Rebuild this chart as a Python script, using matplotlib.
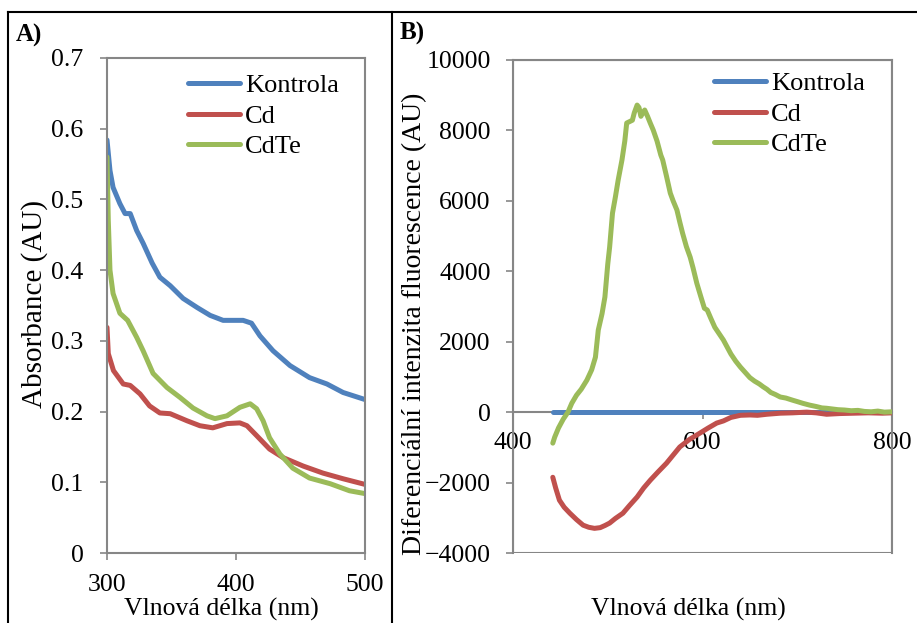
import matplotlib.pyplot as plt
from matplotlib.lines import Line2D
from matplotlib.patches import Rectangle

plt.rcParams['font.family'] = ['Liberation Serif', 'DejaVu Serif']

W, H = 917, 623

# ---- panel A: absorbance ----
a_kon_x = [300, 302.3, 304.7, 310, 314, 318, 323, 328, 335, 341, 349, 359, 370, 380, 390,
           395, 405.5, 412, 418.6, 428.7, 441.9, 457, 470.5, 483, 500]
a_kon_y = [0.584, 0.541, 0.517, 0.494, 0.480, 0.480, 0.456, 0.438, 0.410, 0.390, 0.378, 0.360,
           0.347, 0.336, 0.329, 0.329, 0.329, 0.325, 0.307, 0.286, 0.265, 0.248, 0.239, 0.227, 0.217]

a_cd_x = [300, 301, 305, 312.6, 318, 325.6, 333, 341, 349, 362, 372, 382, 393,
          403, 408.5, 416, 426, 436.4, 452, 467.4, 483, 500]
a_cd_y = [0.319, 0.282, 0.258, 0.239, 0.237, 0.225, 0.208, 0.198, 0.197, 0.187, 0.180, 0.177,
          0.183, 0.184, 0.180, 0.166, 0.147, 0.135, 0.123, 0.113, 0.105, 0.097]

a_te_x = [300, 301, 302.3, 304.7, 310, 316, 323, 328, 335.7, 346.5, 356.6, 366.7, 377.5, 383.7,
          393, 403, 411, 416, 421, 426, 434, 444, 457, 473, 488, 500]
a_te_y = [0.56, 0.470, 0.400, 0.367, 0.339, 0.329, 0.305, 0.286, 0.254, 0.234, 0.220, 0.205,
          0.194, 0.190, 0.194, 0.206, 0.211, 0.204, 0.187, 0.163, 0.140, 0.120, 0.106, 0.098,
          0.088, 0.084]

# ---- panel B: differential fluorescence ----
b_kon_x = [442, 800]
b_kon_y = [0, 0]

b_cd_x = [442, 445, 449, 454, 460, 467, 474, 480, 486, 492, 497, 502, 508, 516, 523, 531, 538,
          545, 553, 562, 569, 576, 586, 597, 606, 615, 622, 630, 640, 650, 658, 668, 682, 695,
          710, 720, 731, 745, 760, 775, 790, 800]
b_cd_y = [-1850, -2150, -2500, -2700, -2870, -3050, -3210, -3270, -3300, -3280, -3220, -3150,
          -3020, -2870, -2650, -2410, -2150, -1930, -1700, -1450, -1220, -990, -780, -600, -450,
          -310, -250, -150, -90, -80, -90, -60, -30, -20, 0, -20, -60, -40, -30, -20, -30, -20]

b_te_x = [442, 444, 448, 453, 458, 462, 467, 472, 478, 483, 487, 490, 494, 497, 500, 502, 505,
          508, 511, 515, 518, 520, 523, 526, 528, 531, 533, 535, 537, 539, 542, 545, 548, 552,
          556, 558, 562, 566, 569, 573, 576, 579, 583, 587, 590, 594, 598, 602, 605, 609, 613,
          617, 622, 626, 630, 635, 640, 645, 650, 655, 660, 664, 668, 672, 677, 682, 688, 695,
          700, 706, 713, 720, 726, 731, 737, 743, 750, 757, 764, 771, 778, 785, 792, 800]
b_te_y = [-880, -710, -450, -200, 0, 250, 480, 650, 910, 1200, 1560, 2330, 2800, 3270, 4200,
          4690, 5650, 6100, 6590, 7160, 7700, 8210, 8250, 8290, 8500, 8720, 8650, 8400, 8500,
          8580, 8400, 8200, 8010, 7700, 7300, 7160, 6700, 6220, 6000, 5740, 5400, 5080, 4700,
          4400, 4100, 3660, 3300, 2950, 2900, 2650, 2410, 2250, 2050, 1850, 1650, 1450, 1280,
          1130, 980, 880, 800, 720, 650, 560, 500, 430, 400, 340, 300, 250, 200, 160, 120, 110,
          90, 70, 60, 40, 50, 20, 10, 30, 0, 10]

names = ['Kontrola', 'Cd', 'CdTe']
colors = ['#4F81BD', '#C0504D', '#9BBB59']
gray = '#868686'
fs = 18.5
lfs = 19
lw = 3.6


def fx(px):
    return px / W


def fy(py):
    return 1 - py / H


fig = plt.figure(figsize=(W / 100, H / 100), dpi=100)

# outer table borders
for x0, y0, x1, y1 in [(8, 12, 917, 12), (8, 12, 8, 623), (392, 12, 392, 623)]:
    fig.add_artist(Line2D([fx(x0), fx(x1)], [fy(y0), fy(y1)], color='black', lw=1.5))

# panel A
ax1 = fig.add_axes([fx(107), fy(553), fx(365) - fx(107), fy(58) - fy(553)])
for xs, ys, c, n in zip([a_kon_x, a_cd_x, a_te_x], [a_kon_y, a_cd_y, a_te_y], colors, names):
    ax1.plot(xs, ys, color=c, lw=lw, label=n, solid_capstyle='round', solid_joinstyle='round')
ax1.set_xlim(300, 500)
ax1.set_ylim(0, 0.7)
ax1.set_xticks([300, 400, 500])
ax1.set_yticks([0, 0.1, 0.2, 0.3, 0.4, 0.5, 0.6, 0.7])
ax1.set_yticklabels(['0', '0.1', '0.2', '0.3', '0.4', '0.5', '0.6', '0.7'])
ax1.tick_params(axis='y', direction='out', length=5, color=gray, width=1.2, labelsize=fs, pad=12)
ax1.tick_params(axis='x', direction='out', length=5, color=gray, width=1.2, labelsize=fs, pad=10)
for s in ax1.spines.values():
    s.set_color(gray)
    s.set_linewidth(1.5)
ax1.legend(loc='upper left', bbox_to_anchor=(fx(188), fy(74)), bbox_transform=fig.transFigure,
           frameon=False, fontsize=lfs, handlelength=1.97, handletextpad=0.19, labelspacing=0.26,
           borderpad=0, borderaxespad=0)

# panel B
ax2 = fig.add_axes([fx(513), fy(553), fx(892) - fx(513), fy(60) - fy(553)])
for xs, ys, c, n in zip([b_kon_x, b_cd_x, b_te_x], [b_kon_y, b_cd_y, b_te_y], colors, names):
    ax2.plot(xs, ys, color=c, lw=lw, label=n, solid_capstyle='round', solid_joinstyle='round',
             zorder=3)
ax2.set_xlim(400, 800)
ax2.set_ylim(-4000, 10000)
ax2.set_xticks([400, 600, 800])
ax2.set_yticks(range(-4000, 10001, 2000))
ax2.spines['bottom'].set_position(('data', 0))
ax2.add_patch(Rectangle((0, 0), 1, 1, transform=ax2.transAxes, fill=False,
                        edgecolor=gray, lw=1.5, zorder=1))
ax2.tick_params(axis='y', direction='out', length=5, color=gray, width=1.2, labelsize=fs, pad=11)
ax2.tick_params(axis='x', direction='out', length=5, color=gray, width=1.2, labelsize=fs, pad=9)
for s in ax2.spines.values():
    s.set_color(gray)
    s.set_linewidth(1.5)
ax2.legend(loc='upper left', bbox_to_anchor=(fx(714), fy(72)), bbox_transform=fig.transFigure,
           frameon=False, fontsize=lfs, handlelength=1.97, handletextpad=0.19, labelspacing=0.26,
           borderpad=0, borderaxespad=0)

# texts
fig.text(fx(16), fy(35), 'A)', fontsize=18, fontweight='bold', ha='left', va='center')
fig.text(fx(400), fy(33), 'B)', fontsize=18, fontweight='bold', ha='left', va='center')
fig.text(fx(35), fy(304), 'Absorbance (AU)', fontsize=21, rotation=90, ha='center', va='center')
fig.text(fx(415), fy(324), 'Diferenciální intenzita fluorescence (AU)', fontsize=20,
         rotation=90, ha='center', va='center')
fig.text(fx(221), fy(609), 'Vlnová délka (nm)', fontsize=fs, ha='center', va='center')
fig.text(fx(688), fy(609), 'Vlnová délka (nm)', fontsize=fs, ha='center', va='center')

fig.savefig('out.png', dpi=100)
